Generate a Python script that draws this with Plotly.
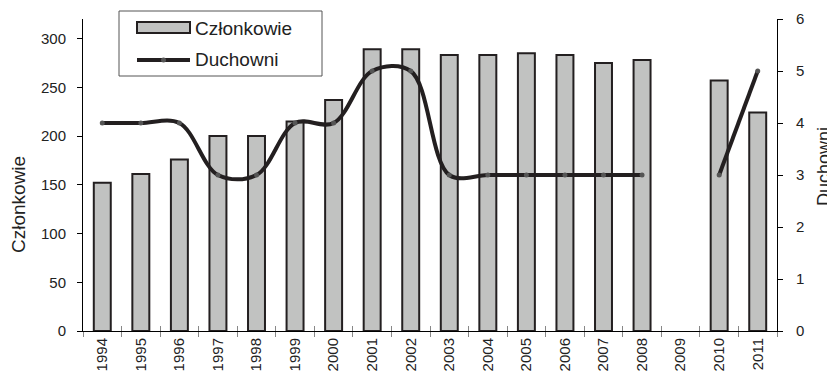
import plotly.graph_objects as go

years = ["1994", "1995", "1996", "1997", "1998", "1999", "2000", "2001", "2002",
         "2003", "2004", "2005", "2006", "2007", "2008", "2009", "2010", "2011"]
czlonkowie = [152, 161, 176, 200, 200, 215, 237, 289, 289,
              283, 283, 285, 283, 275, 278, None, 257, 224]
duchowni = [4, 4, 4, 3, 3, 4, 4, 5, 5,
            3, 3, 3, 3, 3, 3, None, 3, 5]
left_ticks = [0, 50, 100, 150, 200, 250, 300]
right_ticks = [0, 1, 2, 3, 4, 5, 6]

FONT = "Liberation Sans, Arial, sans-serif"
DARK = "#231f20"
OFF = 8  # default page body margin
W, H = 835 - OFF, 380 - OFF
# plot area in page pixels: x 83..777, y 19..331
PL, PR, PT, PB = 83, 777, 19, 331
L, R, T, B = PL - OFF, 835 - PR, PT - OFF, 380 - PB
PW, PH = PR - PL, PB - PT


def px(x):
    return (x - PL) / PW


def py(y):
    return (PB - y) / PH


fig = go.Figure()
fig.add_trace(go.Bar(
    x=years, y=czlonkowie, name="Członkowie",
    marker=dict(color="#c1c2c1", line=dict(color=DARK, width=2)),
    yaxis="y", showlegend=False,
))
fig.add_trace(go.Scatter(
    x=years, y=duchowni, name="Duchowni", mode="lines+markers",
    line=dict(color=DARK, width=4, shape="spline", smoothing=1.0),
    marker=dict(color="#555555", size=5),
    connectgaps=False, yaxis="y2", showlegend=False,
))
fig.add_trace(go.Scatter(
    x=years, y=[None] * len(years), xaxis="x2", yaxis="y",
    showlegend=False, hoverinfo="skip",
))

axis_common = dict(
    showgrid=False, zeroline=False, showline=True, linecolor="#000000",
    linewidth=1, ticks="outside", ticklen=5, tickcolor="#000000",
    tickfont=dict(family=FONT, size=15, color="#222222"),
)

fig.update_layout(
    width=W, height=H,
    margin=dict(l=L, r=R, t=T, b=B, pad=0, autoexpand=False),
    plot_bgcolor="white", paper_bgcolor="white",
    bargap=0.56,
    xaxis=dict(
        type="category", categoryorder="array", categoryarray=years,
        range=[-0.5, len(years) - 0.5],
        showgrid=False, zeroline=False, showline=True, linecolor="#000000",
        linewidth=1, ticks="outside", ticklen=5, tickcolor="#888888",
        tickson="boundaries", tickangle=-90,
        tickfont=dict(family=FONT, size=15, color="#222222"),
    ),
    xaxis2=dict(
        type="category", categoryorder="array", categoryarray=years,
        range=[-0.5, len(years) - 0.5], overlaying="x", anchor="y",
        showgrid=False, zeroline=False, showline=False, ticks="inside",
        ticklen=5, tickcolor="#888888", tickson="boundaries",
        showticklabels=False,
    ),
    yaxis=dict(range=[0, 320], tickvals=left_ticks, ticklabelstandoff=8,
               **axis_common),
    yaxis2=dict(range=[0, 6], tickvals=right_ticks, overlaying="y",
                side="right", anchor="x", ticklabelstandoff=10,
                **axis_common),
)

# axis titles
fig.add_annotation(text="Członkowie", xref="paper", yref="paper",
                   x=px(18), y=py(205), textangle=-90, showarrow=False,
                   font=dict(family=FONT, size=19, color="#222222"),
                   xanchor="center", yanchor="middle")
fig.add_annotation(text="Duchowni", xref="paper", yref="paper",
                   x=px(824), y=py(167), textangle=-90, showarrow=False,
                   font=dict(family=FONT, size=18, color="#222222"),
                   xanchor="center", yanchor="middle")

# legend box
fig.add_shape(type="rect", xref="paper", yref="paper",
              x0=px(119), x1=px(322), y0=py(76), y1=py(11),
              line=dict(color="#555555", width=1), fillcolor="white", layer="above")
fig.add_shape(type="rect", xref="paper", yref="paper",
              x0=px(137), x1=px(190), y0=py(33), y1=py(22),
              line=dict(color=DARK, width=2), fillcolor="#c1c2c1", layer="above")
fig.add_shape(type="line", xref="paper", yref="paper",
              x0=px(137), x1=px(190), y0=py(60), y1=py(60),
              line=dict(color=DARK, width=4), layer="above")
fig.add_shape(type="circle", xref="paper", yref="paper",
              x0=px(161), x1=px(166), y0=py(62.5), y1=py(57.5),
              line=dict(width=0), fillcolor="#555555", layer="above")
fig.add_annotation(text="Członkowie", xref="paper", yref="paper",
                   x=px(193), y=py(28), showarrow=False,
                   font=dict(family=FONT, size=19, color="#222222"),
                   xanchor="left", yanchor="middle")
fig.add_annotation(text="Duchowni", xref="paper", yref="paper",
                   x=px(193), y=py(60), showarrow=False,
                   font=dict(family=FONT, size=19, color="#222222"),
                   xanchor="left", yanchor="middle")

fig.write_html("out.html")
